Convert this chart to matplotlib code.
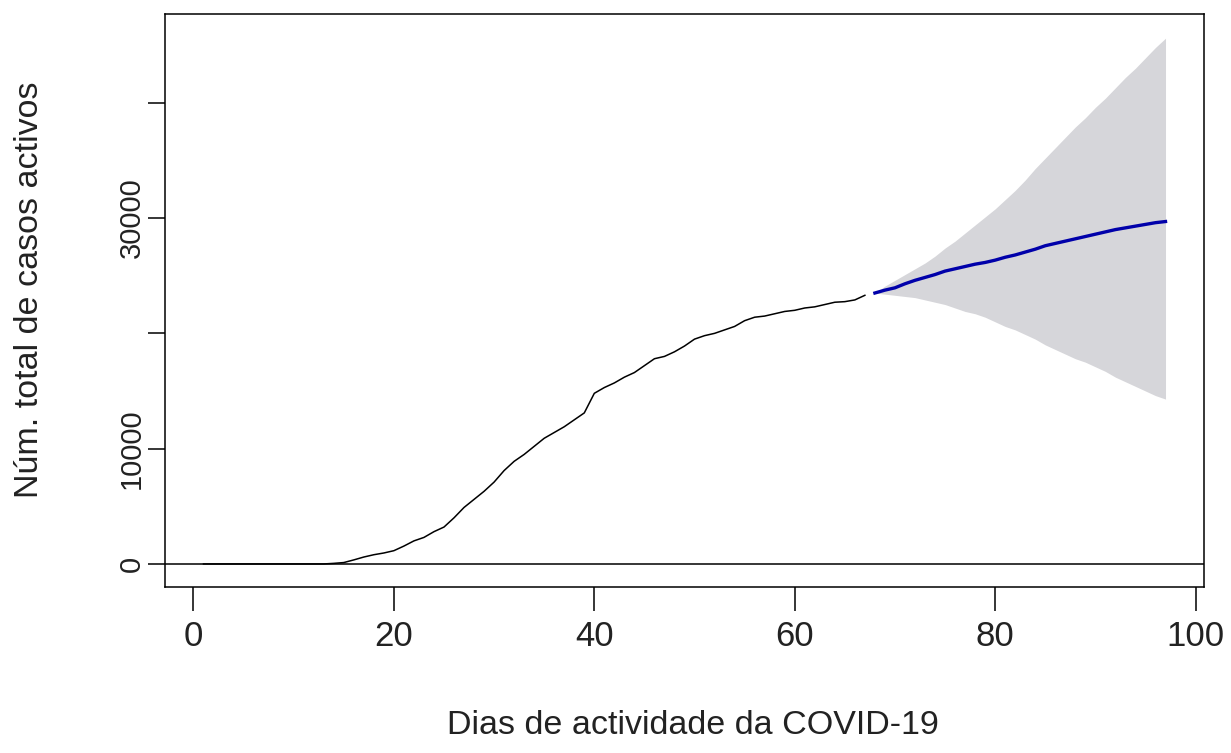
import matplotlib
matplotlib.use("Agg")
import matplotlib.pyplot as plt
import numpy as np

# Observed active cases (days 1..67)
obs_days = list(range(1, 68))
obs_values = [0]*13 + [
    50, 120, 350, 600, 800, 950, 1150, 1550, 2000, 2300,
    2800, 3200, 4000, 4900, 5600, 6300, 7100, 8100, 8900, 9500,
    10200, 10900, 11400, 11900, 12500, 13100, 14800, 15300, 15700, 16200,
    16600, 17200, 17800, 18000, 18400, 18900, 19500, 19800, 20000, 20300,
    20600, 21100, 21400, 21500, 21700, 21900, 22000, 22200, 22300, 22500,
    22700, 22750, 22900, 23300]

# Forecast (days 68..97)
fc_days = list(range(68, 98))
fc_mean = [23500, 23750, 23950, 24300, 24600, 24850, 25100, 25400, 25600, 25800,
           26000, 26150, 26350, 26600, 26800, 27050, 27300, 27600, 27800, 28000,
           28200, 28400, 28600, 28800, 29000, 29150, 29300, 29450, 29600, 29700]
fc_upper = [23500, 24100, 24600, 25100, 25600, 26100, 26700, 27400, 28000, 28700,
            29400, 30100, 30800, 31600, 32400, 33300, 34300, 35200, 36100, 37000,
            37900, 38700, 39600, 40400, 41300, 42200, 43000, 43900, 44800, 45600]
fc_lower = [23500, 23400, 23300, 23200, 23100, 22900, 22700, 22500, 22200, 21900,
            21700, 21400, 21000, 20600, 20300, 19900, 19500, 19000, 18600, 18200,
            17800, 17500, 17100, 16700, 16200, 15800, 15400, 15000, 14600, 14300]

x_ticks = [0, 20, 40, 60, 80, 100]
y_ticks = [0, 10000, 20000, 30000, 40000]
y_tick_labels = ["0", "10000", "", "30000", ""]

plt.rcParams['font.family'] = ['Liberation Sans', 'DejaVu Sans']

W, H = 1231, 753
fig = plt.figure(figsize=(W/100, H/100), dpi=100)
ax = fig.add_axes([165/W, 1-587/H, (1204-165)/W, (587-14)/H])

ax.fill_between(fc_days, fc_lower, fc_upper, color='#D6D6DA', linewidth=0)
ax.axhline(0, color='black', linewidth=1.1)
ax.plot(obs_days, obs_values, color='black', linewidth=1.1)
ax.plot(fc_days, fc_mean, color='#0000AA', linewidth=2.4)

ax.set_xlim(-2.84, 100.84)
ax.set_ylim(-2000, 47700)

for s in ax.spines.values():
    s.set_linewidth(1.1)
    s.set_color('black')

ax.set_xticks(x_ticks)
ax.set_xticklabels([str(v) for v in x_ticks], fontsize=25, color='#222222')
ax.set_yticks(y_ticks)
ax.set_yticklabels(y_tick_labels, fontsize=21, rotation=90, va='center', color='#222222')
ax.tick_params(axis='x', length=17, width=1.1, pad=7)
ax.tick_params(axis='y', length=12, width=1.1, pad=2)

fig.text(693/W, 1-725/H, "Dias de actividade da COVID-19", ha='center', va='center',
         fontsize=24.5, color='#222222')
fig.text(30/W, 1-290/H, "Núm. total de casos activos", ha='center', va='center',
         rotation=90, fontsize=24.5, color='#222222')

fig.savefig("out.png", dpi=100)
